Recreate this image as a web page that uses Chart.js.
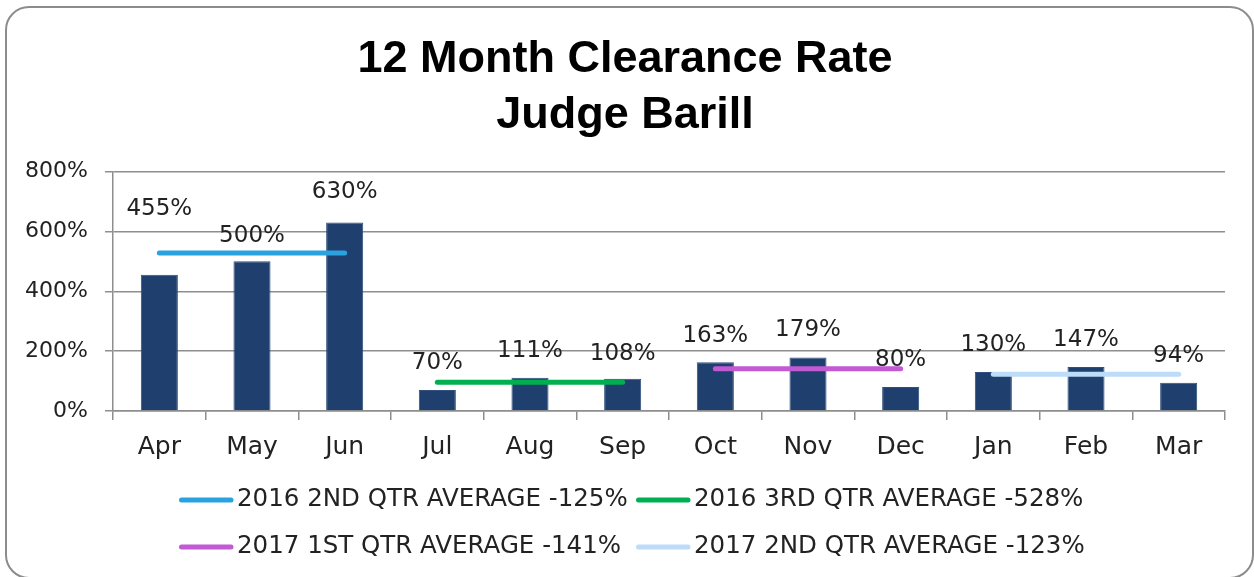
<!DOCTYPE html>
<html>
<head>
<meta charset="utf-8">
<script src="https://cdn.jsdelivr.net/npm/chart.js@4"></script>
<style>
  html, body { margin: 0; padding: 0; background: #fff; }
  body { width: 1254px; height: 577px; position: relative; overflow: hidden; }
  .prev-box {
    position: absolute; left: 8px; top: -40px; width: 1198px; height: 40px;
    border: 2px solid #8c8c8c; border-radius: 22px; box-sizing: border-box;
  }
  .frame {
    position: absolute; left: 5px; top: 6px; width: 1249px; height: 573px;
    border: 2px solid #8c8c8c; border-radius: 24px; box-sizing: border-box;
  }
  #wrap { position: absolute; left: 0; top: 0; width: 1254px; height: 577px; }
</style>
</head>
<body>
<div class="prev-box"></div>
<div class="frame"></div>
<div id="wrap"><canvas id="clearanceChart"></canvas></div>
<script>
// Data
const months = ['Apr', 'May', 'Jun', 'Jul', 'Aug', 'Sep', 'Oct', 'Nov', 'Dec', 'Jan', 'Feb', 'Mar'];
const clearanceRate = [455, 500, 630, 70, 111, 108, 163, 179, 80, 130, 147, 94];
const avg2016Q2 = [528, 528, 528, null, null, null, null, null, null, null, null, null];
const avg2016Q3 = [null, null, null, 96, 96, 96, null, null, null, null, null, null];
const avg2017Q1 = [null, null, null, null, null, null, 141, 141, 141, null, null, null];
const avg2017Q2 = [null, null, null, null, null, null, null, null, null, 123, 123, 123];
const yTicks = [0, 200, 400, 600, 800];

const FONT = '"DejaVu Sans", sans-serif';
const GRID = '#8e8e8e';

// labels sitting above the bars (first one is pushed up in the original)
const barLabels = {
  id: 'barLabels',
  afterDatasetsDraw(chart) {
    const ctx = chart.ctx;
    const lift = [66, 25, 30, 27, 27, 25, 26, 27, 27, 27, 27, 27];
    const meta = chart.getDatasetMeta(0);
    ctx.save();
    ctx.font = '23px ' + FONT;
    ctx.fillStyle = '#222';
    ctx.textAlign = 'center';
    ctx.textBaseline = 'middle';
    meta.data.forEach((bar, i) => {
      ctx.fillText(clearanceRate[i] + '%', bar.x, bar.y - lift[i]);
    });
    ctx.restore();
  }
};

// two column legend like the Excel one
const gridLegend = {
  id: 'gridLegend',
  afterDraw(chart) {
    const ctx = chart.ctx;
    const cols = [179, 636];
    const rowY = [chart.chartArea.bottom + 89, chart.chartArea.bottom + 136];
    const items = chart.data.datasets.filter(d => d.type === 'line');
    ctx.save();
    ctx.font = '24.5px ' + FONT;
    ctx.textBaseline = 'middle';
    items.forEach((d, i) => {
      const x = cols[i % 2];
      const y = rowY[Math.floor(i / 2)];
      ctx.strokeStyle = d.borderColor;
      ctx.lineWidth = 5;
      ctx.lineCap = 'round';
      ctx.beginPath();
      ctx.moveTo(x + 2.5, y);
      ctx.lineTo(x + 52, y);
      ctx.stroke();
      ctx.fillStyle = '#222';
      ctx.fillText(d.label, x + 58, y);
    });
    ctx.restore();
  }
};

function avgLine(label, data, color) {
  return {
    type: 'line',
    label: label,
    data: data,
    borderColor: color,
    backgroundColor: color,
    borderWidth: 5,
    borderCapStyle: 'round',
    pointRadius: 0,
    pointHoverRadius: 0,
    spanGaps: false,
    order: 0
  };
}

const ctx = document.getElementById('clearanceChart').getContext('2d');
const chart = new Chart(ctx, {
  type: 'bar',
  data: {
    labels: months,
    datasets: [
      {
        type: 'bar',
        label: 'Clearance Rate',
        data: clearanceRate,
        backgroundColor: '#1f3f6e',
        borderColor: '#2f4f7c',
        borderWidth: 1,
        categoryPercentage: 1,
        barPercentage: 0.4,
        order: 1
      },
      avgLine('2016 2ND QTR AVERAGE -125%', avg2016Q2, '#2aa2df'),
      avgLine('2016 3RD QTR AVERAGE -528%', avg2016Q3, '#00b050'),
      avgLine('2017 1ST QTR AVERAGE -141%', avg2017Q1, '#c25ad3'),
      avgLine('2017 2ND QTR AVERAGE -123%', avg2017Q2, '#bcdcf9')
    ]
  },
  options: {
    responsive: true,
    maintainAspectRatio: false,
    animation: false,
    layout: {
      padding: { left: 25, right: 29, top: 0, bottom: 103 }
    },
    plugins: {
      legend: { display: false },
      tooltip: { enabled: false },
      title: {
        display: true,
        text: ['12 Month Clearance Rate', 'Judge Barill'],
        color: '#000',
        font: { family: '"Liberation Sans", Arial, sans-serif', size: 45, weight: 'bold', lineHeight: 1.25 },
        padding: { top: 31, bottom: 28 }
      }
    },
    scales: {
      x: {
        offset: true,
        grid: {
          offset: true,
          drawOnChartArea: false,
          drawTicks: true,
          tickLength: 9,
          color: GRID,
          lineWidth: 1.5
        },
        border: { color: GRID, width: 1.5 },
        ticks: {
          color: '#222',
          font: { family: FONT, size: 25 },
          padding: 12,
          maxRotation: 0
        }
      },
      y: {
        min: 0,
        max: 800,
        afterFit(scale) { scale.width = 88; },
        afterBuildTicks(scale) { scale.ticks = yTicks.map(v => ({ value: v })); },
        grid: {
          color: GRID,
          lineWidth: 1.5,
          tickLength: 8
        },
        border: { color: GRID, width: 1.5 },
        ticks: {
          color: '#222',
          font: { family: FONT, size: 22 },
          padding: 17,
          callback: v => v + '%'
        }
      }
    }
  },
  plugins: [barLabels, gridLegend]
});
</script>
</body>
</html>
